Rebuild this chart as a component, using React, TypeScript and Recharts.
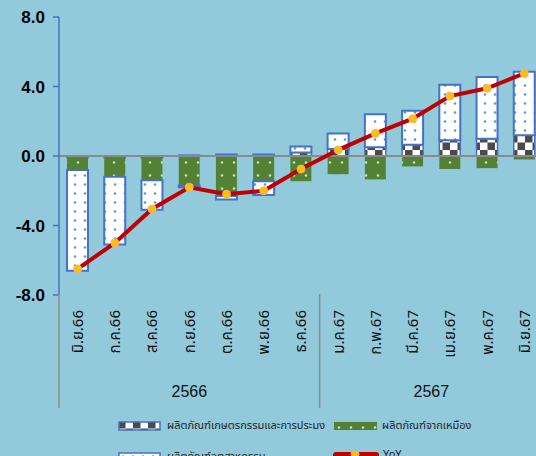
import React from 'react';
import { ComposedChart, Bar, Line, XAxis, YAxis, ReferenceLine, Legend } from 'recharts';

const months = ['มิ.ย.66', 'ก.ค.66', 'ส.ค.66', 'ก.ย.66', 'ต.ค.66', 'พ.ย.66', 'ธ.ค.66', 'ม.ค.67', 'ก.พ.67', 'มี.ค.67', 'เม.ย.67', 'พ.ค.67', 'มิ.ย.67'];
const agri = [-0.1, -0.1, -0.1, 0.05, 0.1, 0.1, 0.2, 0.4, 0.5, 0.65, 0.9, 1.0, 1.2];
const mining = [-0.7, -1.1, -1.3, -1.7, -2.3, -1.45, -1.45, -1.05, -1.35, -0.6, -0.75, -0.7, -0.2];
const manuf = [-5.8, -3.9, -1.7, -0.1, -0.2, -0.8, 0.35, 0.9, 1.9, 1.95, 3.2, 3.55, 3.65];
const yoy = [-6.5, -5.0, -3.05, -1.8, -2.2, -2.0, -0.75, 0.35, 1.3, 2.15, 3.45, 3.9, 4.75];
const yTicks = [-8, -4, 0, 4, 8];
const years = [
  { label: '2566', start: 0, end: 6 },
  { label: '2567', start: 7, end: 12 },
];
const seriesNames = {
  agri: 'ผลิตภัณฑ์เกษตรกรรมและการประมง',
  mining: 'ผลิตภัณฑ์จากเหมือง',
  manuf: 'ผลิตภัณฑ์อุตสาหกรรม',
  yoy: 'YoY',
};

const data = months.map((m, i) => ({ m, agri: agri[i], mining: mining[i], manuf: manuf[i], yoy: yoy[i] }));

const BG = '#92CADB';
const CHART_W = 543;
const CHART_H = 456;
const Y_W = 59;
const BAND = (CHART_W - Y_W) / months.length;
const PLOT_BOTTOM = 295;
const THAI = "Tahoma, 'Noto Sans Thai', 'Noto Sans', sans-serif";

const CatTick = (props: any) => {
  const { x, y, payload } = props;
  return (
    <text x={x} y={y} transform={`rotate(-90 ${x} ${y})`} textAnchor="end" dy="0.36em" fontSize={15} fill="#111" fontFamily={THAI}>
      {payload.value}
    </text>
  );
};

const YearTick = (props: any) => {
  const { x, y, index } = props;
  const items: any[] = [];
  years.forEach((g) => {
    if (index === g.start) {
      items.push(<line key="s" x1={x - BAND / 2} x2={x - BAND / 2} y1={PLOT_BOTTOM - 1} y2={408} stroke="#8c8c8c" strokeWidth={1.5} />);
    }
    const mid = (g.start + g.end) / 2;
    if (index === Math.floor(mid)) {
      const off = (mid - Math.floor(mid)) * BAND;
      items.push(
        <text key="t" x={x + off} y={y + 22} textAnchor="middle" fontSize={16} fill="#111" fontFamily="'Liberation Sans', Arial, sans-serif">
          {g.label}
        </text>
      );
    }
  });
  return <g>{items}</g>;
};

const Swatch = ({ kind }: { kind: string }) => {
  if (kind === 'yoy') {
    return (
      <svg width={46} height={12} style={{ display: 'block' }}>
        <rect x={0} y={0} width={46} height={10} rx={3} fill="#C00000" />
        <circle cx={22} cy={2} r={4} fill="#FFC000" stroke="#F4B183" />
      </svg>
    );
  }
  const fill = kind === 'agri' ? 'url(#patAgri)' : kind === 'mining' ? 'url(#patMining)' : 'url(#patManuf)';
  const stroke = kind === 'mining' ? 'none' : '#4472C4';
  return (
    <svg width={44} height={10} style={{ display: 'block' }}>
      <rect x={1} y={1} width={kind === 'mining' ? 44 : 41} height={8} fill={fill} stroke={stroke} strokeWidth={1.5} />
    </svg>
  );
};

const LegendContent = () => {
  const items = [
    { k: 'agri', left: 118, top: 6 },
    { k: 'mining', left: 333, top: 6 },
    { k: 'manuf', left: 118, top: 37 },
    { k: 'yoy', left: 333, top: 37 },
  ];
  return (
    <div style={{ position: 'relative', width: CHART_W, height: 41 }}>
      {items.map((it) => (
        <div key={it.k} style={{ position: 'absolute', left: it.left, top: it.top, display: 'flex', alignItems: it.k === 'yoy' ? 'flex-start' : 'center' }}>
          <Swatch kind={it.k} />
          <span style={{ marginLeft: it.k === 'yoy' ? 4 : 5, fontSize: 11, color: '#222', fontFamily: THAI, lineHeight: '10px', marginTop: it.k === 'yoy' ? -2 : 0, whiteSpace: 'nowrap' }}>
            {(seriesNames as any)[it.k]}
          </span>
        </div>
      ))}
    </div>
  );
};

export default function App() {
  return (
    <div style={{ width: 536, height: 456, overflow: 'hidden', background: BG, position: 'relative' }}>
      <style>{`html,body{margin:0;padding:0;background:${BG};overflow:hidden;}`}</style>
      <ComposedChart width={CHART_W} height={CHART_H} data={data} stackOffset="sign" margin={{ top: 17, right: 0, left: 0, bottom: 0 }}>
        <defs>
          <pattern id="patManuf" width={10} height={9} patternUnits="userSpaceOnUse">
            <rect width={10} height={9} fill="#ffffff" />
            <circle cx={5} cy={4.5} r={1.3} fill="#5B9BD5" />
          </pattern>
          <pattern id="patMining" width={12} height={13} patternUnits="userSpaceOnUse">
            <rect width={12} height={13} fill="#548235" />
            <circle cx={6} cy={6.5} r={1.2} fill="#D2E3C8" />
          </pattern>
          <pattern id="patAgri" width={15} height={15} patternUnits="userSpaceOnUse">
            <rect width={15} height={15} fill="#ffffff" />
            <rect x={0} y={0} width={7.5} height={7.5} fill="#4a4a4a" />
            <rect x={7.5} y={7.5} width={7.5} height={7.5} fill="#4a4a4a" />
          </pattern>
        </defs>
        <XAxis dataKey="m" height={80} axisLine={false} tickLine={false} tickSize={0} tickMargin={15} interval={0} tick={<CatTick />} />
        <XAxis dataKey="m" xAxisId="year" height={40} axisLine={false} tickLine={false} tickSize={0} tickMargin={0} interval={0} tick={<YearTick />} />
        <YAxis
          width={Y_W}
          domain={[-8, 8]}
          ticks={yTicks}
          tickFormatter={(v: number) => v.toFixed(1)}
          axisLine={{ stroke: '#4472C4', strokeWidth: 1.5 }}
          tickLine={{ stroke: '#4472C4', strokeWidth: 1.5 }}
          tickSize={6}
          tickMargin={8}
          tick={{ fill: '#000', fontSize: 17, fontWeight: 700, fontFamily: "'Liberation Sans', Arial, sans-serif" }}
          allowDataOverflow
        />
        <Legend verticalAlign="bottom" content={<LegendContent />} wrapperStyle={{ left: 0, width: CHART_W }} />
        <Bar dataKey="agri" name={seriesNames.agri} stackId="a" barSize={21} fill="url(#patAgri)" stroke="#4472C4" strokeWidth={1.5} isAnimationActive={false} />
        <Bar dataKey="mining" name={seriesNames.mining} stackId="a" barSize={21} fill="url(#patMining)" isAnimationActive={false} />
        <Bar dataKey="manuf" name={seriesNames.manuf} stackId="a" barSize={21} fill="url(#patManuf)" stroke="#4472C4" strokeWidth={2} isAnimationActive={false} />
        <ReferenceLine y={0} stroke="#8a8a8a" strokeWidth={2} />
        <Line dataKey="yoy" name={seriesNames.yoy} type="linear" stroke="#C00000" strokeWidth={4} dot={{ r: 4, fill: '#FFC000', stroke: '#F4B183', strokeWidth: 1 }} isAnimationActive={false} />
      </ComposedChart>
    </div>
  );
}
